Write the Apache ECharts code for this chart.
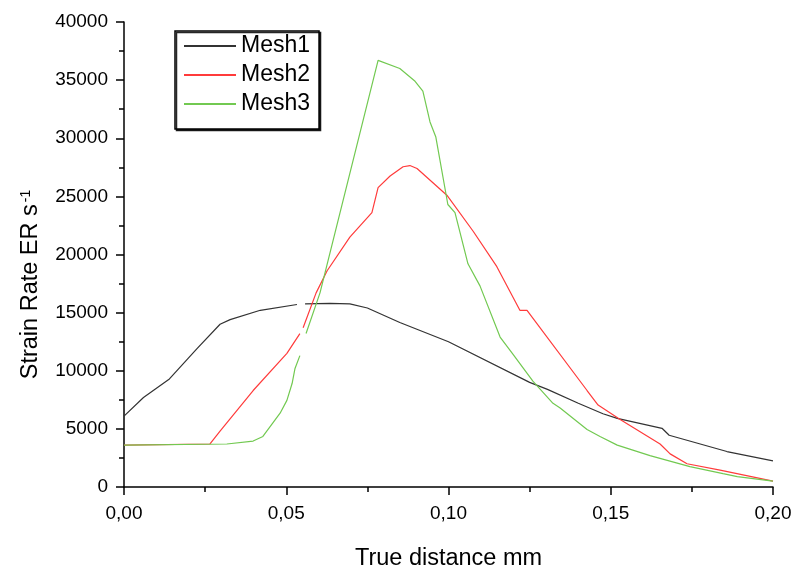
<!DOCTYPE html>
<html>
<head>
<meta charset="utf-8">
<script src="https://cdn.jsdelivr.net/npm/echarts@6/dist/echarts.min.js"></script>
<style>
html,body{margin:0;padding:0;background:#fff;}
#chart{width:795px;height:576px;}
</style>
</head>
<body>
<div id="chart"></div>
<script>
const seriesNames = ['Mesh1', 'Mesh2', 'Mesh3'];
const xTicks = [0, 0.05, 0.10, 0.15, 0.20];
const yTicks = [0, 5000, 10000, 15000, 20000, 25000, 30000, 35000, 40000];

const mesh1X = [0, 0.006, 0.014, 0.0225, 0.0296, 0.0327, 0.042, 0.0533, 0.0545, 0.0558, 0.0635, 0.0696, 0.075, 0.085, 0.100, 0.125, 0.1305, 0.140, 0.1476, 0.152, 0.1658, 0.168, 0.1858, 0.200];
const mesh1Y = [6100, 7700, 9300, 11900, 14000, 14400, 15200, 15700, null, 15750, 15800, 15750, 15400, 14150, 12500, 9000, 8400, 7200, 6300, 5900, 5050, 4450, 3050, 2250];

const mesh2X = [0, 0.0265, 0.0296, 0.0398, 0.0502, 0.0542, 0.0547, 0.0552, 0.0592, 0.0626, 0.0696, 0.0764, 0.0783, 0.082, 0.086, 0.0881, 0.0903, 0.0995, 0.1076, 0.1149, 0.122, 0.1242, 0.1427, 0.1461, 0.1529, 0.1652, 0.1683, 0.1735, 0.1837, 0.200];
const mesh2Y = [3600, 3700, 4800, 8300, 11500, 13200, null, 13700, 16700, 18600, 21500, 23600, 25750, 26750, 27550, 27650, 27400, 25100, 22000, 18950, 15200, 15200, 8300, 7050, 5800, 3700, 2850, 2000, 1450, 500];

const mesh3X = [0, 0.0317, 0.0398, 0.0428, 0.0481, 0.0502, 0.0518, 0.0527, 0.0542, 0.055, 0.0561, 0.0604, 0.0783, 0.085, 0.0897, 0.0921, 0.0943, 0.0961, 0.0998, 0.102, 0.106, 0.1097, 0.1159, 0.1199, 0.126, 0.1322, 0.1344, 0.1427, 0.1467, 0.152, 0.1621, 0.1744, 0.1846, 0.189, 0.200];
const mesh3Y = [3600, 3700, 3950, 4350, 6350, 7450, 8900, 10200, 11300, null, 13200, 16700, 36700, 36000, 34900, 34050, 31400, 30100, 24300, 23600, 19200, 17300, 12900, 11400, 9100, 7200, 6800, 4950, 4350, 3600, 2700, 1750, 1150, 900, 500];

const colors = ['#333333', '#ff3b3b', '#72c951'];

function pairs(xs, ys) {
  return xs.map((x, i) => [x, ys[i] === null ? '-' : ys[i]]);
}

const chart = echarts.init(document.getElementById('chart'), null, {renderer: 'canvas'});
const font = 'Liberation Sans, Arial, sans-serif';

const option = {
  backgroundColor: '#fff',
  animation: false,
  grid: {left: 124, right: 22, top: 22, bottom: 77, containLabel: false},
  legend: {
    data: seriesNames,
    left: 175,
    top: 31,
    orient: 'vertical',
    itemWidth: 52,
    itemHeight: 14,
    itemGap: 3,
    padding: [2, 9, 12, 8],
    borderColor: '#000',
    borderWidth: 1.5,
    borderRadius: 0,
    backgroundColor: '#fff',
    shadowColor: 'rgba(0,0,0,0.85)',
    shadowOffsetX: 1.5,
    shadowOffsetY: 1.5,
    shadowBlur: 0,
    itemStyle: {opacity: 0},
    textStyle: {fontFamily: font, fontSize: 23, color: '#000', lineHeight: 26}
  },
  xAxis: {
    type: 'value',
    min: xTicks[0],
    max: xTicks[xTicks.length - 1],
    interval: 0.05,
    name: 'True distance mm',
    nameLocation: 'middle',
    nameGap: 60,
    nameTextStyle: {fontFamily: font, fontSize: 23.5, color: '#000'},
    axisLine: {show: true, onZero: false, lineStyle: {color: '#000', width: 1.5}},
    axisTick: {show: true, inside: false, length: 8, lineStyle: {color: '#000', width: 1.5}},
    minorTick: {show: true, splitNumber: 2, length: 5, lineStyle: {color: '#000', width: 1.5}},
    splitLine: {show: false},
    axisLabel: {
      margin: 17,
      fontFamily: font, fontSize: 19, color: '#000',
      formatter: v => v.toFixed(2).replace('.', ',')
    }
  },
  yAxis: {
    type: 'value',
    min: yTicks[0],
    max: yTicks[yTicks.length - 1],
    interval: 5000,
    name: 'Strain Rate ER s{sup|-1}',
    nameLocation: 'middle',
    nameRotate: 90,
    nameGap: 81,
    nameTextStyle: {
      fontFamily: font, fontSize: 23.5, color: '#000',
      padding: [0, 60, 0, 0],
      rich: {
        sup: {fontFamily: font, fontSize: 14, color: '#000', verticalAlign: 'top', padding: [0, 0, 10, 2]}
      }
    },
    axisLine: {show: true, onZero: false, lineStyle: {color: '#000', width: 1.5}},
    axisTick: {show: true, inside: false, length: 8, lineStyle: {color: '#000', width: 1.5}},
    minorTick: {show: true, splitNumber: 2, length: 5, lineStyle: {color: '#000', width: 1.5}},
    splitLine: {show: false},
    axisLabel: {margin: 16, fontFamily: font, fontSize: 19, color: '#000', formatter: v => String(v)}
  },
  series: [
    {name: seriesNames[0], type: 'line', data: pairs(mesh1X, mesh1Y), symbol: 'none', connectNulls: false,
     lineStyle: {color: colors[0], width: 1.2}, itemStyle: {color: colors[0]}},
    {name: seriesNames[1], type: 'line', data: pairs(mesh2X, mesh2Y), symbol: 'none', connectNulls: false,
     lineStyle: {color: colors[1], width: 1.2}, itemStyle: {color: colors[1]}},
    {name: seriesNames[2], type: 'line', data: pairs(mesh3X, mesh3Y), symbol: 'none', connectNulls: false,
     lineStyle: {color: colors[2], width: 1.2}, itemStyle: {color: colors[2]}}
  ]
};
chart.setOption(option);
</script>
</body>
</html>
